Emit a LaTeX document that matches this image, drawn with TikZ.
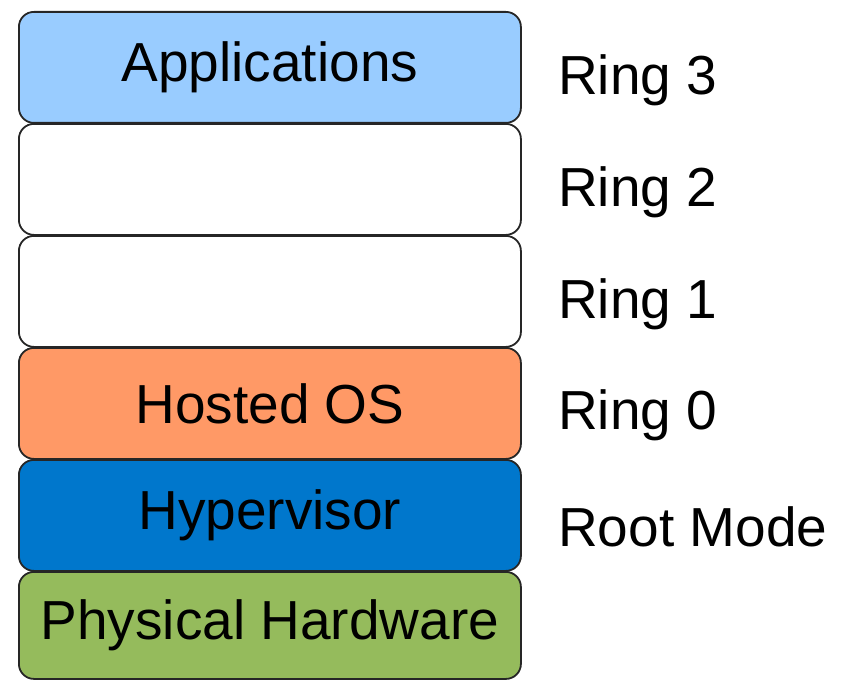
\documentclass[tikz,border=0pt]{standalone}
\usepackage{fontspec}
\setmainfont{Liberation Sans}
\begin{document}
\begin{tikzpicture}[x=1pt,y=-1pt,
  layer/.style={draw=black!85, line width=1.8pt, rounded corners=15pt, minimum width=502pt, minimum height=111pt, inner sep=0pt, font=\fontsize{55}{60}\selectfont, anchor=north west},
  ringlabel/.style={anchor=west, inner sep=0pt, font=\fontsize{55}{60}\selectfont}]
\useasboundingbox (0,0) rectangle (842,679);
\definecolor{appblue}{HTML}{99CCFF}
\definecolor{hostorange}{HTML}{FF9966}
\definecolor{hypblue}{HTML}{0077CC}
\definecolor{hwgreen}{HTML}{95BB5C}
\node[layer, fill=appblue] (app) at (18,11) {Applications};
\node[layer, fill=white] (r2) at (18,123) {};
\node[layer, fill=white] (r1) at (18,235) {};
\node[layer, fill=hostorange] (os) at (18,347) {Hosted OS};
\node[layer, fill=hypblue] (hyp) at (18,459) {Hypervisor};
\node[layer, fill=hwgreen, minimum height=107pt] (hw) at (18,571) {Physical Hardware};
\node[ringlabel] (l3) at (558,80) {Ring 3};
\node[ringlabel] (l2) at (558,192) {Ring 2};
\node[ringlabel] (l1) at (558,304) {Ring 1};
\node[ringlabel] (l0) at (558,415) {Ring 0};
\node[ringlabel] (lr) at (558,527) {Root Mode};
\end{tikzpicture}
\end{document}
